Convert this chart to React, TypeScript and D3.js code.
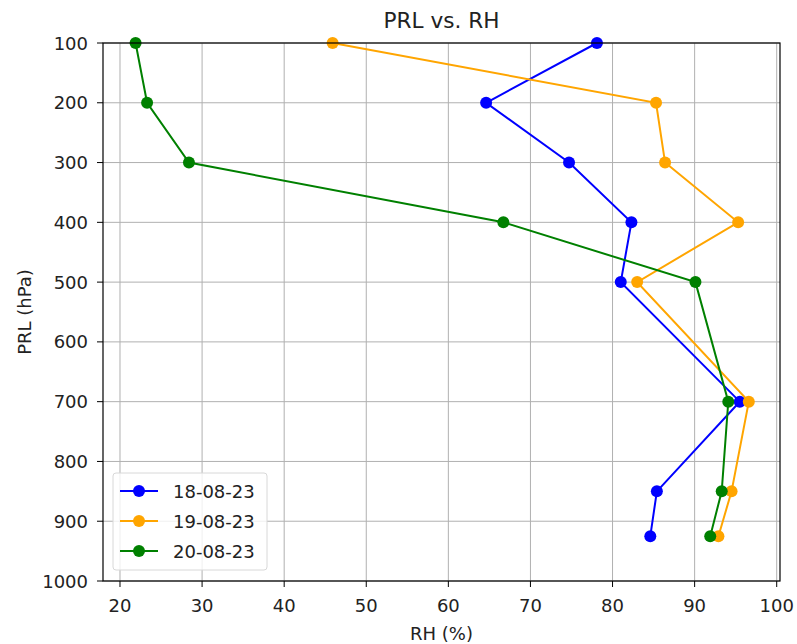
import React from "react";
import * as d3 from "d3";

const levels = [100, 200, 300, 400, 500, 700, 850, 925];
const rh180823 = [78.1, 64.6, 74.7, 82.3, 81.0, 95.5, 85.4, 84.6];
const rh190823 = [45.9, 85.3, 86.4, 95.3, 83.0, 96.6, 94.5, 92.9];
const rh200823 = [21.9, 23.3, 28.4, 66.7, 90.1, 94.1, 93.3, 91.9];
const seriesNames = ["18-08-23", "19-08-23", "20-08-23"];
const seriesColors = ["blue", "orange", "green"];
const xTicks = [20, 30, 40, 50, 60, 70, 80, 90, 100];
const yTicks = [100, 200, 300, 400, 500, 600, 700, 800, 900, 1000];

const W = 797, H = 644;
const m = { left: 103, right: 780, top: 43, bottom: 581 };

export default function App() {
  const x = d3.scaleLinear().domain([17.93, 100.4]).range([m.left, m.right]);
  const y = d3.scaleLinear().domain([100, 1000]).range([m.top, m.bottom]);
  const all = [rh180823, rh190823, rh200823];
  const line = d3.line<number>().x((d) => x(d)).y((_, i) => y(levels[i]));
  const font = "DejaVu Sans, sans-serif";
  return (
    <svg width={W} height={H} style={{ position: "absolute", left: 0, top: 0, background: "white" }} fontFamily={font}>
      <rect x={0} y={0} width={W} height={H} fill="white" />
      <g>
        {xTicks.map((t) => (
          <line key={"gx" + t} x1={x(t)} x2={x(t)} y1={m.top} y2={m.bottom} stroke="#b0b0b0" strokeWidth={1} />
        ))}
        {yTicks.map((t) => (
          <line key={"gy" + t} x1={m.left} x2={m.right} y1={y(t)} y2={y(t)} stroke="#b0b0b0" strokeWidth={1} />
        ))}
      </g>
      {all.map((s, k) => (
        <g key={k}>
          <path d={line(s) || ""} fill="none" stroke={seriesColors[k]} strokeWidth={2} />
          {s.map((v, i) => (
            <circle key={i} cx={x(v)} cy={y(levels[i])} r={6} fill={seriesColors[k]} />
          ))}
        </g>
      ))}
      <rect x={m.left} y={m.top} width={m.right - m.left} height={m.bottom - m.top} fill="none" stroke="black" strokeWidth={1.2} />
      {xTicks.map((t) => (
        <g key={"tx" + t}>
          <line x1={x(t)} x2={x(t)} y1={m.bottom} y2={m.bottom + 6} stroke="black" strokeWidth={1} />
          <text x={x(t)} y={m.bottom + 31} textAnchor="middle" fontSize={18} fill="#222">{t}</text>
        </g>
      ))}
      {yTicks.map((t) => (
        <g key={"ty" + t}>
          <line x1={m.left - 6} x2={m.left} y1={y(t)} y2={y(t)} stroke="black" strokeWidth={1} />
          <text x={m.left - 15} y={y(t) + 6.5} textAnchor="end" fontSize={18} fill="#222">{t}</text>
        </g>
      ))}
      <text x={(m.left + m.right) / 2} y={28} textAnchor="middle" fontSize={21.6} fill="#222">PRL vs. RH</text>
      <text x={(m.left + m.right) / 2} y={640} textAnchor="middle" fontSize={18} fill="#222">RH (%)</text>
      <text transform={`translate(31,${(m.top + m.bottom) / 2}) rotate(-90)`} textAnchor="middle" fontSize={18} fill="#222">PRL (hPa)</text>
      <g>
        <rect x={113} y={473} width={154} height={97} rx={3} fill="white" fillOpacity={0.8} stroke="#d8d8d8" strokeWidth={1} />
        {seriesNames.map((n, k) => (
          <g key={n}>
            <line x1={120} x2={158} y1={491 + k * 30} y2={491 + k * 30} stroke={seriesColors[k]} strokeWidth={2} />
            <circle cx={139} cy={491 + k * 30} r={6} fill={seriesColors[k]} />
            <text x={173} y={497.5 + k * 30} fontSize={18} fill="#222">{n}</text>
          </g>
        ))}
      </g>
    </svg>
  );
}
